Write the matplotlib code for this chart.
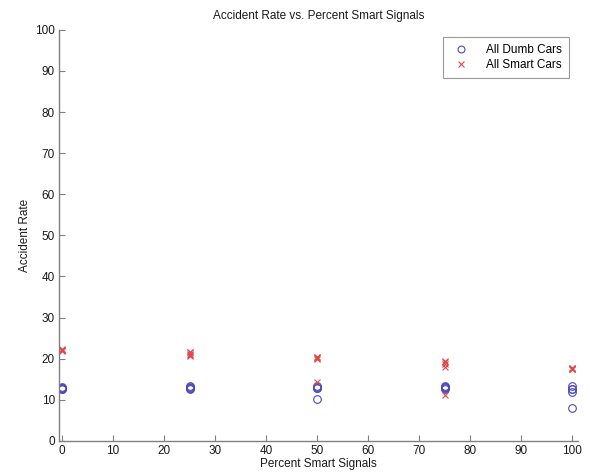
import matplotlib
matplotlib.use("Agg")
import matplotlib.pyplot as plt
import numpy as np

plt.rcParams['font.family'] = ['Liberation Sans', 'DejaVu Sans']

percent_signals = [0, 25, 50, 75, 100]
dumb_rates = [
    [12.7, 12.9, 12.8, 12.6, 13.0],
    [13.1, 12.7, 12.9, 13.3, 12.8],
    [12.9, 13.3, 10.2, 13.0, 12.8],
    [13.4, 12.7, 13.0, 13.2, 12.9],
    [13.4, 12.7, 11.9, 8.0, 12.5],
]
smart_rates = [
    [22.4, 21.9, 22.1, 22.2, 22.0],
    [21.7, 20.7, 21.2, 21.5, 20.9],
    [20.4, 20.0, 14.4, 20.2, 20.3],
    [19.2, 18.0, 11.2, 18.6, 19.5],
    [17.5, 17.6, 17.5, 17.4, 17.6],
]

fig = plt.figure(figsize=(5.9, 4.73), dpi=100)
ax = fig.add_axes([0.1, 0.068, 0.88, 0.869])

dx = np.repeat(percent_signals, 5)
ax.plot(dx, np.ravel(dumb_rates), linestyle='none', marker='o', markersize=5.5,
        markerfacecolor='none', markeredgecolor='#4a4ac0', markeredgewidth=0.8,
        label='All Dumb Cars')
ax.plot(dx, np.ravel(smart_rates), linestyle='none', marker='x', markersize=4.5,
        markeredgecolor='#e0474c', markeredgewidth=0.8, label='All Smart Cars')

ax.set_xlim(-0.6, 101.2)
ax.set_ylim(0, 100)
ax.set_xticks(range(0, 101, 10))
ax.set_yticks(range(0, 101, 10))
for s in ['top', 'right']:
    ax.spines[s].set_visible(False)
for s in ['left', 'bottom']:
    ax.spines[s].set_color('#808080')
    ax.spines[s].set_linewidth(1.0)
ax.tick_params(direction='in', length=4, color='#808080', labelsize=8.5,
               labelcolor='#1a1a1a', pad=3)

ax.set_title('Accident Rate vs. Percent Smart Signals', fontsize=8.5, color='#1a1a1a', pad=8)
ax.set_xlabel('Percent Smart Signals', fontsize=8.5, color='#1a1a1a', labelpad=1)
ax.set_ylabel('Accident Rate', fontsize=8.5, color='#1a1a1a', labelpad=3)

leg = ax.legend(loc='upper right', bbox_to_anchor=(0.983, 0.983), fontsize=8.5,
                frameon=True, fancybox=False, edgecolor='#808080',
                borderpad=0.6, labelspacing=0.25, handletextpad=1.2, handlelength=1.9,
                borderaxespad=0, markerscale=0.9)
leg.get_frame().set_linewidth(0.8)

fig.savefig('out.png', dpi=100)
